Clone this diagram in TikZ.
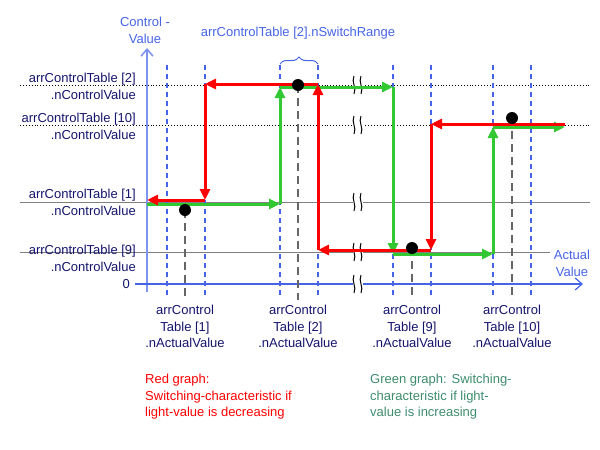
\documentclass[tikz,border=0pt]{standalone}
\usepackage{fontspec}
\setmainfont{Liberation Sans}
\usetikzlibrary{arrows.meta,decorations.pathreplacing}
\definecolor{axisblue}{RGB}{70,100,230}
\definecolor{labelnavy}{RGB}{20,20,110}
\definecolor{incgreen}{RGB}{50,200,50}
\definecolor{textgreen}{RGB}{60,140,110}
\tikzset{
  rng/.style={axisblue,line width=1.5pt,dash pattern=on 5pt off 4pt},
  mark line/.style={black!60,line width=1.5pt,dash pattern=on 8pt off 5pt},
  red graph/.style={red,line width=3pt,-{Triangle[length=11pt,width=10pt]}},
  green graph/.style={incgreen,line width=3pt,-{Triangle[length=11pt,width=10pt]}},
  lbl/.style={font=\fontsize{13}{17}\selectfont,align=right,anchor=east,text=labelnavy,inner sep=1pt},
  blbl/.style={font=\fontsize{13}{16.5}\selectfont,align=center,anchor=north,text=labelnavy},
  wavy/.style={black,line width=1pt}
}
\begin{document}
\begin{tikzpicture}[x=1pt,y=-1pt]
\useasboundingbox (0,0) rectangle (600,450);
% levels
\draw[black,dotted,line width=0.9pt] (20,85) -- (590,85);
\draw[black,dotted,line width=0.9pt] (20,125) -- (590,125);
\draw[gray,line width=1pt] (20,202) -- (590,202);
\draw[gray,line width=1pt] (20,252) -- (550,252);
% switch ranges
\foreach \xx in {167,205,280,318,393,431,493,531}
  \draw[rng] (\xx,65) -- (\xx,298);
% brace
\draw[axisblue,line width=1pt,decorate,decoration={brace,amplitude=7pt}] (280,64) -- (318,64);
\node[font=\fontsize{13}{15}\selectfont,text=axisblue] (range) at (298,33) {arrControlTable [2].nSwitchRange};
% axes
\draw[axisblue!70,line width=1.5pt,-{Straight Barb[length=7pt,width=12pt]}] (147,292) -- (147,48);
\draw[axisblue,line width=1.2pt,-{Straight Barb[length=7pt,width=12pt]}] (135,284) -- (583,284);
\node[font=\fontsize{13}{17}\selectfont,align=center,text=axisblue] (ylab) at (145,30) {Control -\\Value};
\node[font=\fontsize{13}{17}\selectfont,align=center,text=axisblue] (xlab) at (572,263) {Actual\\Value};
% marker lines
\draw[mark line] (185,210) -- (185,300);
\draw[mark line] (298,85) -- (298,300);
\draw[mark line] (412,248) -- (412,300);
\draw[mark line] (512,118) -- (512,300);
% breaks
\foreach \yy in {85,125,202,252,284}{
  \fill[white] (353,\yy-7) rectangle (363,\yy+7);
  \draw[wavy] (354,\yy-9) .. controls (351,\yy-3) and (357,\yy+3) .. (354,\yy+9);
  \draw[wavy] (361,\yy-9) .. controls (358,\yy-3) and (364,\yy+3) .. (361,\yy+9);
}
% green graph
\draw[green graph] (147,204) -- (280,204);
\draw[green graph] (280,204) -- (280,87);
\draw[green graph] (280,87) -- (393,87);
\draw[green graph] (393,87) -- (393,254);
\draw[green graph] (393,254) -- (493,254);
\draw[green graph] (493,254) -- (493,127);
\draw[green graph] (493,127) -- (565,127);
% red graph
\draw[red graph] (565,124) -- (431,124);
\draw[red graph] (431,124) -- (431,250);
\draw[red graph] (431,250) -- (318,250);
\draw[red graph] (318,250) -- (318,84);
\draw[red graph] (318,84) -- (205,84);
\draw[red graph] (205,84) -- (205,200);
\draw[red graph] (205,200) -- (147,200);
% points
\foreach \px/\py in {185/210,298/85,412/248,512/118}
  \fill[black] (\px,\py) circle (6pt);
% left labels
\node[lbl] (l2) at (137,86) {arrControlTable [2]\\.nControlValue};
\node[lbl] (l10) at (137,126) {arrControlTable [10]\\.nControlValue};
\node[lbl] (l1) at (137,202) {arrControlTable [1]\\.nControlValue};
\node[lbl] (l9) at (137,258) {arrControlTable [9]\\.nControlValue};
\node[lbl] (l0) at (131,284) {0};
% bottom labels
\node[blbl] (b1) at (185,302) {arrControl\\Table [1]\\.nActualValue};
\node[blbl] (b2) at (298,302) {arrControl\\Table [2]\\.nActualValue};
\node[blbl] (b9) at (412,302) {arrControl\\Table [9]\\.nActualValue};
\node[blbl] (b10) at (512,302) {arrControl\\Table [10]\\.nActualValue};
% legend
\node[font=\fontsize{13}{16.5}\selectfont,align=left,anchor=north west,text=red,inner sep=0pt] (redtxt) at (145,374) {Red graph:\\Switching-characteristic if\\light-value is decreasing};
\node[font=\fontsize{13}{16.5}\selectfont,align=left,anchor=north west,text=textgreen,inner sep=0pt] (greentxt) at (370,374) {Green graph: Switching-\\characteristic if light-\\value is increasing};
\end{tikzpicture}
\end{document}
